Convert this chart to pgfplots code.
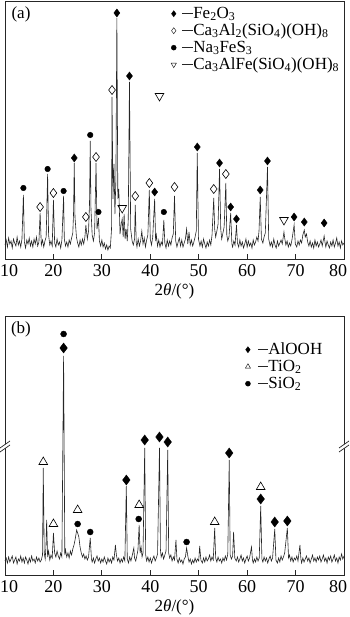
\documentclass[border=0pt]{standalone}
\usepackage{pgfplots}
\pgfplotsset{compat=1.18}
\usepackage{fontspec}
\setmainfont{Liberation Serif}
\pgfplotsset{
  xrdaxis/.style={
    scale only axis, width=339bp,
    xmin=10, xmax=80, ymin=0,
    xtick={10,20,...,80}, ytick=\empty,
    xticklabels={\rlap{\hspace*{-5bp}10},20,30,40,50,60,70,\llap{80\hspace*{-3bp}}},
    xtick pos=bottom, tick align=inside, major tick length=5bp,
    axis line style={line width=0.8bp, black!85},
    every tick/.style={black!85, line width=0.8bp},
    font=\fontsize{17bp}{20bp}\selectfont,
    xticklabel style={font=\fontsize{18bp}{20bp}\selectfont, yshift=-2bp},
    xlabel={2\textit{θ}/(°)},
    xlabel style={at={(axis description cs:0.5,0)}, anchor=center, yshift=-32bp},
    clip=false,
    legend cell align=left,
    legend style={draw=none, fill=none, inner sep=0pt, row sep=2bp,
      nodes={inner sep=0pt, text height=12bp, text depth=3bp}},
  },
  xrd/.style={black!85, line width=0.6bp, mark=none},
}
\begin{document}
\begin{tikzpicture}
\useasboundingbox (0,0) rectangle (350bp,617bp);
% ---------------- panel (a)
\begin{axis}[xrdaxis, at={(5bp,358bp)}, anchor=south west, height=258bp, ymax=258,
  legend image code/.code={\draw[#1] plot coordinates {(0bp,0bp)};
    \draw[black!85, line width=1bp] (8bp,0bp) -- (19bp,0bp);},
  legend style={at={(axis cs:44.27,253)}, anchor=north west,
    /tikz/every even column/.append style={column sep=3bp}}]
\addlegendimage{only marks, mark=diamond*, mark size=3bp, black}
\addlegendentry{Fe\textsubscript{2}O\textsubscript{3}}
\addlegendimage{only marks, mark=diamond, mark size=3bp, black, mark options={fill=white}}
\addlegendentry{Ca\textsubscript{3}Al\textsubscript{2}(SiO\textsubscript{4})(OH)\textsubscript{8}}
\addlegendimage{only marks, mark=*, mark size=2.5bp, black}
\addlegendentry{Na\textsubscript{3}FeS\textsubscript{3}}
\addlegendimage{only marks, mark=triangle, mark size=3bp, black, mark options={rotate=180, fill=white}}
\addlegendentry{Ca\textsubscript{3}AlFe(SiO\textsubscript{4})(OH)\textsubscript{8}}
\addplot[xrd, forget plot] coordinates {
(10.00,14)(10.25,19)(10.50,12)(10.75,21)(11.00,15)(11.25,18)(11.50,11)(11.75,20)(12.00,16)(12.25,13)
(12.50,22)(12.75,14)(13.00,18)(13.25,12)(13.50,20)(13.8,64)(14.00,17)(14.25,11)(14.50,19)(14.75,15)
(15.00,21)(15.25,13)(15.50,18)(15.75,12)(16.00,20)(16.25,15)(16.50,22)(16.75,13)(17.00,17)(17.25,46)
(17.50,14)(17.75,19)(18.00,12)(18.25,18)(18.50,22)(18.8,85)(19.00,24)(19.25,14)(19.50,18)(19.75,13)
(20.0,59)(20.25,16)(20.50,12)(20.75,20)(21.00,14)(21.25,17)(21.50,11)(21.75,19)(22.1,63)(22.25,20)
(22.50,13)(22.75,17)(23.00,12)(23.25,19)(23.50,15)(23.75,21)(24.00,26)(24.15,45)(24.3,96)(24.45,42)
(24.75,22)(25.00,16)(25.25,12)(25.50,19)(25.75,14)(26.00,20)(26.25,15)(26.50,22)(26.7,34)(27.00,20)
(27.25,28)(27.45,55)(27.6,118)(27.75,50)(28.00,24)(28.25,18)(28.50,26)(28.8,96)(29.00,30)(29.3,41)
(29.50,18)(29.75,13)(30.00,19)(30.25,12)(30.50,16)(30.75,10)(31.00,14)(31.25,9)(31.50,13)(31.75,11)
(32.00,30)(32.1,162)(32.30,60)(32.50,95)(32.70,45)(32.90,80)(33.1,241)(33.30,60)(33.5,70)(33.75,25)
(34.00,35)(34.2,40)(34.40,22)(34.6,45)(34.80,20)(35.00,30)(35.25,18)(35.45,40)(35.7,177)(35.95,30)
(36.25,18)(36.50,14)(36.75,20)(36.9,54)(37.10,16)(37.25,12)(37.50,20)(37.75,13)(38.00,18)(38.25,28)
(38.50,15)(38.75,21)(39.00,12)(39.25,19)(39.50,24)(39.8,69)(40.00,20)(40.25,14)(40.50,22)(40.9,60)
(41.10,18)(41.25,24)(41.50,13)(41.75,19)(42.00,12)(42.25,17)(42.50,14)(42.8,39)(43.00,16)(43.25,11)
(43.50,19)(43.75,13)(44.00,18)(44.25,14)(44.50,21)(44.75,25)(45.0,63)(45.25,18)(45.50,12)(45.75,17)
(46.00,21)(46.25,13)(46.50,19)(46.75,12)(47.00,16)(47.25,20)(47.50,30)(47.75,15)(48.00,27)(48.25,14)
(48.50,19)(48.75,13)(49.00,17)(49.25,22)(49.50,28)(49.7,106)(49.95,20)(50.25,13)(50.50,18)(50.75,12)
(51.00,20)(51.25,15)(51.50,11)(51.75,17)(52.00,13)(52.25,19)(52.50,14)(52.75,24)(53.1,61)(53.30,30)
(53.50,22)(53.75,28)(54.00,35)(54.3,90)(54.55,30)(54.75,20)(55.00,26)(55.25,32)(55.6,76)(55.80,24)
(56.00,18)(56.25,22)(56.6,46)(56.85,15)(57.00,12)(57.25,18)(57.50,14)(57.8,34)(58.00,16)(58.25,12)
(58.50,19)(58.75,13)(59.00,17)(59.25,11)(59.50,15)(59.75,20)(60.00,12)(60.25,18)(60.50,13)(60.75,16)
(61.00,11)(61.25,19)(61.50,14)(61.75,17)(62.00,22)(62.25,18)(62.45,28)(62.7,62)(62.95,20)(63.25,16)
(63.50,22)(63.75,26)(64.2,92)(64.45,20)(64.75,13)(65.00,17)(65.25,12)(65.50,20)(65.75,14)(66.00,11)
(66.25,18)(66.50,13)(66.75,16)(67.00,19)(67.25,15)(67.6,27)(67.75,21)(68.00,14)(68.25,18)(68.50,12)
(68.75,16)(69.00,13)(69.25,19)(69.7,34)(69.95,15)(70.25,12)(70.50,18)(70.75,14)(71.00,19)(71.25,16)
(71.50,24)(71.8,29)(72.00,22)(72.25,25)(72.50,17)(72.75,13)(73.00,18)(73.25,12)(73.50,16)(73.75,11)
(74.00,19)(74.25,13)(74.50,17)(74.75,12)(75.00,15)(75.25,19)(75.50,13)(75.9,23)(76.10,16)(76.25,12)
(76.50,18)(76.75,14)(77.00,11)(77.25,17)(77.50,13)(77.75,19)(78.00,12)(78.25,16)(78.50,21)(78.75,13)
(79.00,17)(79.25,11)(79.50,18)(79.75,14)(80.00,16)
};
\addplot[only marks, mark=diamond*, mark size=4bp, black, forget plot] coordinates {
(24.3,101)(33.1,246)(35.7,183)(40.9,67)(49.7,112)(54.3,96)(56.6,52)(57.8,40)(62.7,69)(64.2,98)(69.7,42)(71.8,37)(75.9,36)};
\addplot[only marks, mark=diamond, mark size=4.5bp, black, mark options={fill=white, line width=0.6bp}, forget plot] coordinates {
(17.25,52)(20.0,66)(26.7,42)(28.8,102)(32.1,169)(36.9,63)(39.8,76)(45.0,72)(53.1,70)(55.6,85)};
\addplot[only marks, mark=*, mark size=2.8bp, black, forget plot] coordinates {
(13.8,71)(18.8,90)(22.1,68)(27.6,124)(29.3,47)(42.8,47)};
\addplot[only marks, mark=triangle, mark size=5bp, black, mark options={rotate=180, fill=white, line width=0.6bp}, forget plot] coordinates {
(34.2,51)(41.9,163)(67.6,39)};
\node at (axis cs:13.3,245) {(a)};
\end{axis}
% ---------------- panel (b)
\begin{axis}[xrdaxis, at={(5bp,42bp)}, anchor=south west, height=259bp, ymax=259,
  legend image code/.code={\draw[#1] plot coordinates {(0bp,0bp)};
    \draw[black!85, line width=1bp] (10bp,0bp) -- (20bp,0bp);},
  legend style={at={(axis cs:59.59,233)}, anchor=north west,
    /tikz/every even column/.append style={column sep=6bp}}]
\addlegendimage{only marks, mark=diamond*, mark size=3bp, black}
\addlegendentry{AlOOH}
\addlegendimage{only marks, mark=triangle, mark size=3bp, black, mark options={fill=white}}
\addlegendentry{TiO\textsubscript{2}}
\addlegendimage{only marks, mark=*, mark size=2.5bp, black}
\addlegendentry{SiO\textsubscript{2}}
\addplot[xrd, forget plot] coordinates {
(10.00,14)(10.25,17)(10.50,12)(10.75,18)(11.00,13)(11.25,16)(11.50,19)(11.75,12)(12.00,15)(12.25,18)
(12.50,11)(12.75,16)(13.00,14)(13.25,19)(13.50,13)(13.75,17)(14.00,12)(14.25,18)(14.50,15)(14.75,11)
(15.00,17)(15.25,13)(15.50,19)(15.75,14)(16.00,16)(16.25,12)(16.50,18)(16.75,14)(17.00,17)(17.25,13)
(17.50,15)(17.75,20)(17.9,107)(18.10,22)(18.30,16)(18.45,28)(18.6,55)(18.80,18)(19.00,24)(19.25,15)
(19.50,20)(19.75,17)(20.0,42)(20.25,22)(20.50,18)(20.75,24)(21.00,19)(21.25,16)(21.50,22)(21.75,18)
(22.1,219)(22.35,20)(22.50,25)(22.75,18)(23.00,22)(23.25,17)(23.50,24)(23.75,20)(24.00,26)(24.25,30)
(24.50,36)(24.8,45)(25.00,42)(25.25,38)(25.50,28)(25.75,22)(26.00,18)(26.25,21)(26.50,16)(26.75,19)
(27.00,15)(27.25,18)(27.6,37)(27.85,16)(28.00,13)(28.25,17)(28.50,12)(28.75,16)(29.00,19)(29.25,14)
(29.50,17)(29.75,12)(30.00,16)(30.25,13)(30.50,18)(30.75,14)(31.00,11)(31.25,17)(31.50,13)(31.75,16)
(32.00,12)(32.25,18)(32.50,15)(32.8,30)(33.00,20)(33.25,14)(33.50,17)(33.75,12)(34.00,16)(34.25,13)
(34.50,18)(34.75,14)(35.05,89)(35.25,16)(35.50,12)(35.75,18)(36.00,14)(36.25,19)(36.6,27)(36.75,17)
(37.00,14)(37.25,20)(37.45,25)(37.7,50)(37.90,22)(38.10,28)(38.30,18)(38.50,22)(38.85,127)(39.05,20)
(39.25,14)(39.50,18)(39.75,13)(40.00,17)(40.25,12)(40.50,16)(40.75,19)(41.00,14)(41.25,17)(41.50,21)
(41.9,127)(42.10,25)(42.25,18)(42.50,22)(42.75,16)(43.00,20)(43.25,24)(43.6,125)(43.80,22)(44.00,17)
(44.25,20)(44.50,14)(44.75,18)(45.00,15)(45.3,35)(45.50,16)(45.75,12)(46.00,17)(46.25,13)(46.50,15)
(46.75,11)(47.00,16)(47.25,18)(47.5,27)(47.75,19)(48.00,13)(48.25,16)(48.50,11)(48.75,15)(49.00,12)
(49.25,17)(49.50,13)(49.75,16)(50.00,14)(50.2,29)(50.45,15)(50.75,12)(51.00,17)(51.25,13)(51.50,18)
(51.75,14)(52.00,16)(52.25,20)(52.50,14)(52.75,18)(53.00,15)(53.3,47)(53.50,17)(53.75,13)(54.00,18)
(54.25,14)(54.50,16)(54.75,12)(55.00,17)(55.25,14)(55.50,19)(55.75,15)(56.00,21)(56.3,115)(56.50,20)
(56.75,16)(57.00,19)(57.2,43)(57.45,17)(57.75,14)(58.00,18)(58.25,13)(58.50,16)(58.75,20)(59.00,14)
(59.25,17)(59.50,12)(59.75,16)(60.00,19)(60.25,14)(60.50,17)(60.9,28)(61.10,15)(61.25,12)(61.50,16)
(61.75,13)(62.00,18)(62.25,14)(62.50,17)(62.8,69)(63.05,16)(63.25,13)(63.50,18)(63.75,14)(64.00,17)
(64.25,12)(64.50,16)(64.75,19)(65.00,14)(65.25,17)(65.7,46)(65.95,15)(66.25,12)(66.50,17)(66.75,13)
(67.00,19)(67.25,15)(67.50,18)(67.75,22)(68.3,47)(68.55,17)(68.75,20)(69.00,14)(69.25,18)(69.50,13)
(69.75,17)(70.00,15)(70.25,19)(70.50,14)(70.9,30)(71.10,16)(71.25,12)(71.50,17)(71.75,13)(72.00,16)
(72.25,19)(72.50,14)(72.75,17)(73.00,12)(73.25,16)(73.50,20)(73.75,14)(74.00,17)(74.25,13)(74.50,18)
(74.75,15)(75.00,19)(75.25,13)(75.50,16)(75.75,20)(76.00,14)(76.25,17)(76.50,12)(76.75,18)(77.00,15)
(77.25,19)(77.50,13)(77.75,16)(78.00,20)(78.25,14)(78.50,17)(78.75,12)(79.00,18)(79.25,15)(79.50,21)
(79.75,16)(80.00,19)
};
\addplot[only marks, mark=diamond*, mark size=5bp, black, forget plot] coordinates {
(22.1,227)(35.05,95)(38.85,135)(41.9,138)(43.6,133)(56.3,122)(62.8,76)(65.7,53)(68.3,54)};
\addplot[only marks, mark=triangle, mark size=5bp, black, mark options={fill=white, line width=0.6bp}, forget plot] coordinates {
(17.9,113)(20.0,51)(25.0,65)(37.7,70)(53.3,53)(62.8,88)};
\addplot[only marks, mark=*, mark size=3bp, black, forget plot] coordinates {
(22.1,241)(25.0,51)(27.6,43)(37.6,56)(47.5,33)};
\node at (axis cs:13.3,246) {(b)};
\end{axis}
% axis break marks on panel (b)
\foreach \bx in {5,344} {
  \fill[white] (\bx bp-5bp,165bp) -- (\bx bp+5bp,172bp) -- (\bx bp+5bp,176bp) -- (\bx bp-5bp,169bp) -- cycle;
  \draw[black!85, line width=0.7bp] (\bx bp-5bp,165bp) -- (\bx bp+5bp,172bp);
  \draw[black!85, line width=0.7bp] (\bx bp-5bp,169bp) -- (\bx bp+5bp,176bp);
}
\end{tikzpicture}
\end{document}
